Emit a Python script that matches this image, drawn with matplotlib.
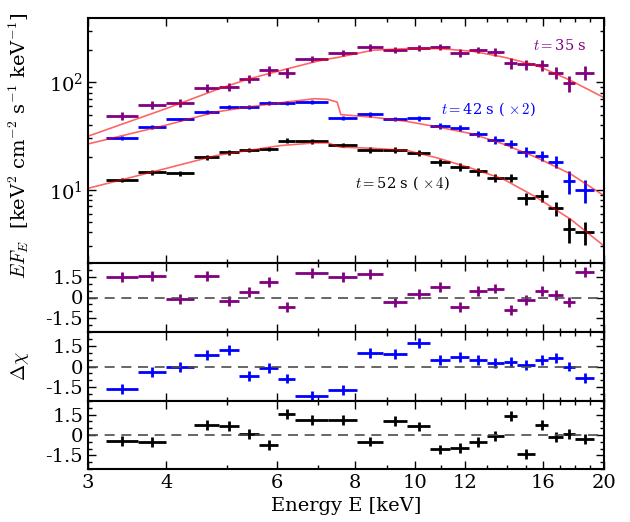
import numpy as np
import matplotlib
matplotlib.use('Agg')
import matplotlib.pyplot as plt
from matplotlib.ticker import FixedLocator, FixedFormatter, NullFormatter, MultipleLocator, LogLocator

plt.rcParams['font.family'] = 'serif'
plt.rcParams['font.serif'] = ['DejaVu Serif']
plt.rcParams['mathtext.fontset'] = 'cm'
plt.rcParams['axes.unicode_minus'] = False
plt.rcParams['font.size'] = 14

# energy bin edges (keV), shared by the three spectra
edges = [3.2, 3.6, 4.0, 4.43, 4.85, 5.22, 5.63, 6.03, 6.43, 7.25, 8.06, 8.89,
         9.68, 10.55, 11.35, 12.17, 12.99, 13.85, 14.55, 15.5, 16.3, 17.2, 18.0, 19.3]

# t = 35 s
f35 = [48.4, 61.9, 64.1, 88.4, 90.4, 108, 129, 123, 166, 188, 211, 199, 209,
       214, 188, 202, 192, 151, 147, 144, 123, 98.5, 123]
e35 = [4.2, 5.3, 5.5, 7.6, 7.8, 9.3, 14, 13.5, 11, 12, 14, 13, 14, 14, 16, 13,
       16.5, 17, 16, 16, 16, 17, 18]
r35 = [1.50, 1.57, -0.14, 1.57, -0.26, 0.41, 1.14, -0.72, 1.79, 1.50, 1.70,
       -0.36, 0.22, 0.78, -0.72, 0.49, 0.65, -0.91, -0.19, 0.46, 0.17, -0.31, 1.86]

# t = 42 s (x2)
f42 = [30.2, 38.2, 45.1, 52.8, 58.8, 58.8, 64.1, 64.1, 65.4, 46.4, 50.2, 45.8,
       46.4, 39.0, 37.4, 33.2, 29.3, 26.7, 22.6, 20.8, 18.3, 12.1, 9.9]
e42 = [1.3, 1.6, 1.9, 2.3, 2.5, 2.5, 3.2, 3.2, 2.8, 2.0, 2.2, 2.0, 2.3, 2.5,
       2.4, 2.2, 2.5, 2.3, 2.5, 2.3, 2.4, 2.9, 2.4]
r42 = [-1.64, -0.43, -0.07, 0.82, 1.21, -0.68, -0.14, -0.87, -2.13, -1.69, 0.97,
       0.90, 1.69, 0.46, 0.70, 0.46, 0.24, 0.34, 0.10, 0.46, 0.60, 0.0, -0.80]

# t = 52 s (x4)
f52 = [12.4, 14.5, 14.2, 20.0, 22.3, 23.5, 24.0, 28.7, 28.3, 26.2, 23.5, 23.6,
       22.0, 18.0, 16.2, 14.8, 12.9, 12.9, 8.3, 8.8, 6.7, 4.3, 4.05]
e52 = [0.6, 0.7, 0.7, 1.0, 1.1, 1.2, 1.2, 1.7, 1.4, 1.3, 1.5, 1.5, 1.4, 1.2,
       1.4, 1.3, 1.1, 1.1, 1.1, 1.1, 1.0, 1.1, 1.0]
r52 = [-0.46, -0.53, np.nan, 0.75, 0.68, 0.07, -0.72, 1.52, 1.09, 1.09, -0.48,
       1.04, 0.63, -1.06, -0.96, -0.53, -0.10, 1.41, -1.38, 0.72, -0.17, 0.07, -0.29]
res_err = 0.36

# model curves
model_E = [3.0, 4.0, 4.8, 5.4, 6.1, 6.9, 7.25, 7.5, 7.6, 8.55, 9.7, 10.9,
           12.3, 13.8, 15.6, 17.7, 20.0]
m35 = [31.5, 57, 85, 107, 129, 155, 165, 170, 173, 199, 206, 206, 195, 172, 144, 104, 72]
m42 = [26.7, 40, 53, 58.8, 64.6, 70.4, 69.4, 65.4, 50, 47.4, 43.2, 38.2, 33.2,
       26.7, 20, 14, 8.8]
m52 = [10.3, 15.8, 20.8, 23.2, 25.8, 27.3, 27.3, 25.4, 24.9, 24.3, 23.2, 19.6,
       15.8, 12.6, 8.5, 5.3, 3.0]

edges = np.array(edges)
E = (edges[:-1] + edges[1:]) / 2
xerr = [E - edges[:-1], edges[1:] - E]

series = [(f35, e35, r35, m35, 'purple'),
          (f42, e42, r42, m42, 'blue'),
          (f52, e52, r52, m52, 'black')]

fig = plt.figure(figsize=(6.3, 5.22), dpi=100)
L, W = 88 / 630, 516 / 630
ax = fig.add_axes([L, 1 - 263 / 522, W, 245 / 522])
res_axes = [fig.add_axes([L, 1 - 332 / 522, W, 69 / 522]),
            fig.add_axes([L, 1 - 401 / 522, W, 69 / 522]),
            fig.add_axes([L, 1 - 469 / 522, W, 68 / 522])]

for f, e, r, m, c in series:
    ax.errorbar(E, f, yerr=e, xerr=xerr, fmt='none', ecolor=c, elinewidth=2, capsize=0)
    ax.plot(model_E, m, color='red', alpha=0.6, lw=1.2)

ax.set_xscale('log')
ax.set_yscale('log')
ax.set_xlim(3, 20)
ax.set_ylim(2.08, 397)
ax.set_ylabel(r'$EF_E$  [keV$^2$ cm$^{-2}$ s$^{-1}$ keV$^{-1}$]')
ax.yaxis.set_label_coords(-0.11, 0.48)
ax.text(18.8, 222, r'$t=$35 s', color='purple', fontsize=10.5, ha='right', va='center')
ax.text(11.0, 56, r'$t=$42 s ( $\times\,2$)', color='blue', fontsize=10.5, va='center')
ax.text(8.0, 11.4, r'$t=$52 s ( $\times\,4$)', color='black', fontsize=10.5, va='center')

for a, (f, e, r, m, c) in zip(res_axes, series):
    a.errorbar(E, r, yerr=res_err, xerr=xerr, fmt='none', ecolor=c, elinewidth=2, capsize=0)
    a.axhline(0, color='0.3', lw=1.2, dashes=(6, 4))
    a.set_xscale('log')
    a.set_xlim(3, 20)
    a.set_ylim(-2.5, 2.5)
    a.yaxis.set_major_locator(FixedLocator([-1.5, 0, 1.5]))
    a.yaxis.set_major_formatter(FixedFormatter(['-1.5', '0', '1.5']))
    a.yaxis.set_minor_locator(MultipleLocator(0.5))
res_axes[1].set_ylabel(r'$\Delta\chi$')
res_axes[1].yaxis.set_label_coords(-0.11, 0.5)

majors = [3, 4, 6, 8, 10, 12, 16, 20]
minors = [5, 7, 9, 11, 13, 14, 15, 17, 18, 19]
for a in [ax] + res_axes:
    a.xaxis.set_major_locator(FixedLocator(majors))
    a.xaxis.set_minor_locator(FixedLocator(minors))
    a.xaxis.set_minor_formatter(NullFormatter())
    if a is res_axes[-1]:
        a.xaxis.set_major_formatter(FixedFormatter([str(v) for v in majors]))
    else:
        a.xaxis.set_major_formatter(NullFormatter())
    a.tick_params(which='both', direction='in', top=True, right=True, width=1)
    a.tick_params(which='major', length=6)
    a.tick_params(which='minor', length=3)
    for s in a.spines.values():
        s.set_linewidth(1.5)

ax.yaxis.set_minor_locator(LogLocator(subs=np.arange(2, 10), numticks=20))
ax.yaxis.set_minor_formatter(NullFormatter())
res_axes[-1].set_xlabel('Energy E [keV]')

fig.savefig('out.png', dpi=100)
